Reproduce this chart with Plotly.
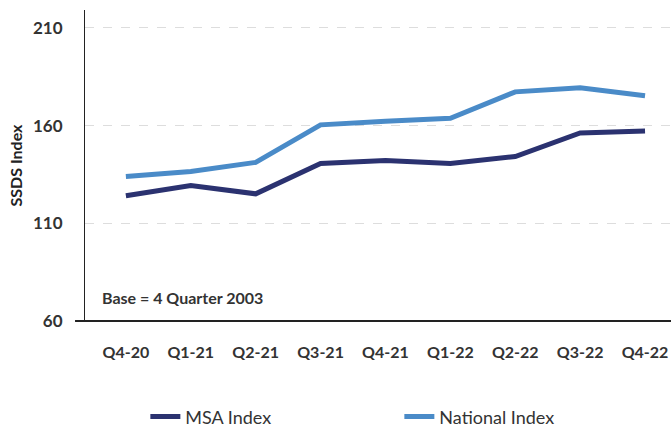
import plotly.graph_objects as go

# Quarterly SSDS index values (base = 4 Quarter 2003)
quarters = ["Q4-20", "Q1-21", "Q2-21", "Q3-21", "Q4-21", "Q1-22", "Q2-22", "Q3-22", "Q4-22"]
msa_index = [124.1, 129.4, 125.1, 140.6, 142.2, 140.6, 144.2, 156.3, 157.2]
national_index = [134.0, 136.5, 141.2, 160.4, 162.3, 163.8, 177.3, 179.4, 175.3]
y_ticks = [60, 110, 160, 210]

MSA_COLOR = "#2B3270"
NAT_COLOR = "#4A8BC8"
TEXT = "#333333"
FONT = "Lato"

fig = go.Figure()
fig.add_trace(go.Scatter(x=quarters, y=msa_index, name="MSA Index", mode="lines",
                         line=dict(color=MSA_COLOR, width=5)))
fig.add_trace(go.Scatter(x=quarters, y=national_index, name="National Index", mode="lines",
                         line=dict(color=NAT_COLOR, width=5)))

fig.update_layout(
    width=671, height=428,
    margin=dict(l=85, r=0, t=10, b=107, autoexpand=False),
    plot_bgcolor="white", paper_bgcolor="white",
    font=dict(family=FONT, color=TEXT),
    xaxis=dict(type="category", range=[-0.63, 8.4],
               tickfont=dict(family=FONT, size=16, color=TEXT, weight="bold"),
               showgrid=False, zeroline=False, showline=False, ticks="",
               ticklabelstandoff=20, automargin=False),
    yaxis=dict(range=[60, 219.2], tickmode="array", tickvals=y_ticks,
               tickfont=dict(family=FONT, size=17, color=TEXT, weight="bold"),
               showgrid=True, gridcolor="#DDDDDD", griddash="dash", gridwidth=1,
               zeroline=False, showline=True, linecolor="#222222", linewidth=1,
               ticks="", ticklabelstandoff=18, automargin=False,
               title=dict(text="SSDS Index", standoff=6,
                          font=dict(family=FONT, size=16, color="#222222", weight="bold"))),
    legend=dict(orientation="h", x=0.103, xanchor="left",
                yref="container", y=0.026, yanchor="middle",
                entrywidth=209, entrywidthmode="pixels",
                font=dict(family=FONT, size=18, color=TEXT)),
    showlegend=True,
)

# baseline under the plot, extending slightly left of the y axis
fig.add_shape(type="line", xref="paper", yref="paper", x0=-0.017, x1=1, y0=0, y1=0,
              line=dict(color="#222222", width=2))

fig.add_annotation(text="Base = 4 Quarter 2003", xref="paper", yref="y",
                   x=0.026, y=71.8, xanchor="left", yanchor="middle", showarrow=False,
                   font=dict(family=FONT, size=16, color=TEXT, weight="bold"))

fig.write_html("out.html")
